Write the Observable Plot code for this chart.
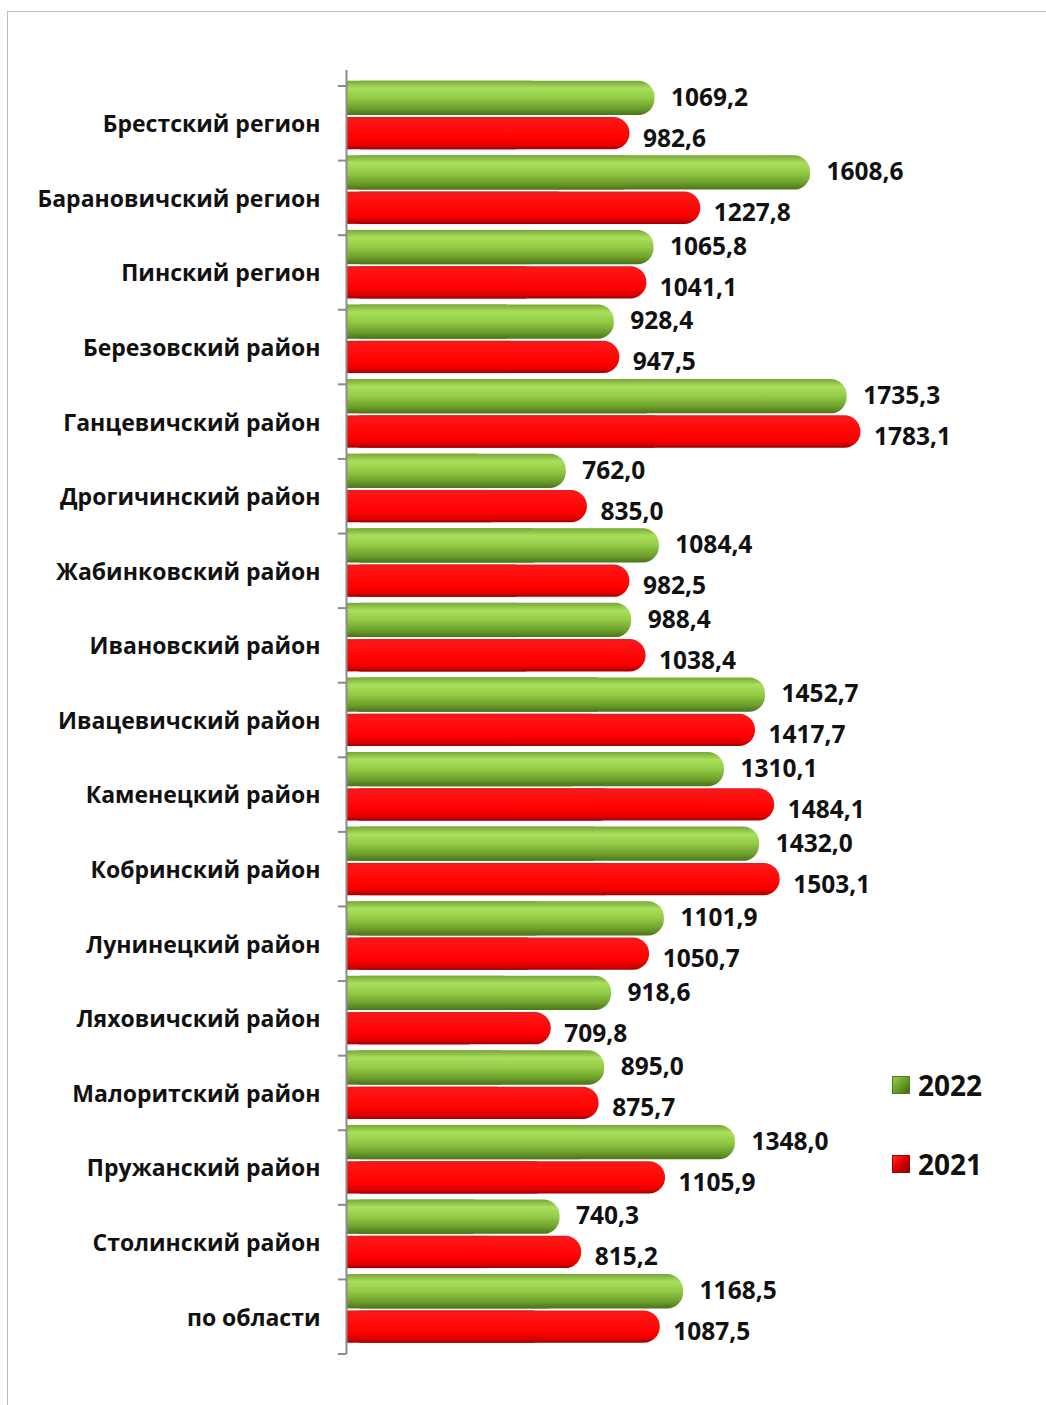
<!DOCTYPE html>
<html>
<head>
<meta charset="utf-8">
<script src="https://cdn.jsdelivr.net/npm/d3@7"></script>
<script src="https://cdn.jsdelivr.net/npm/@observablehq/plot@0.6"></script>
<style>
  html, body { margin: 0; padding: 0; background: #fff; }
  #wrap { position: relative; width: 1046px; height: 1405px; overflow: hidden; }
  #frame { position: absolute; left: 7px; top: 11px; right: -10px; bottom: -10px;
           border-left: 1.5px solid #bdbdbd; border-top: 1.5px solid #bdbdbd; pointer-events: none; }
  #chart { position: absolute; left: 0; top: 0; }
  .leg { position: absolute; font-family: 'Open Sans', sans-serif; font-weight: 700; font-size: 28px;
         color: #111; display: flex; align-items: center; line-height: 1; }
  .sw { width: 18px; height: 18px; margin-right: 8px; box-sizing: border-box; }
</style>
</head>
<body>
<div id="wrap">
  <div id="frame"></div>
  <div id="chart"></div>
</div>
<script>
const categories = [
  "Брестский регион",
  "Барановичский регион",
  "Пинский регион",
  "Березовский район",
  "Ганцевичский район",
  "Дрогичинский район",
  "Жабинковский район",
  "Ивановский район",
  "Ивацевичский район",
  "Каменецкий район",
  "Кобринский район",
  "Лунинецкий район",
  "Ляховичский район",
  "Малоритский район",
  "Пружанский район",
  "Столинский район",
  "по области"
];
const values2022 = [1069.2, 1608.6, 1065.8, 928.4, 1735.3, 762.0, 1084.4, 988.4, 1452.7, 1310.1, 1432.0, 1101.9, 918.6, 895.0, 1348.0, 740.3, 1168.5];
const values2021 = [982.6, 1227.8, 1041.1, 947.5, 1783.1, 835.0, 982.5, 1038.4, 1417.7, 1484.1, 1503.1, 1050.7, 709.8, 875.7, 1105.9, 815.2, 1087.5];
const seriesNames = ["2022", "2021"];

const d22 = categories.map((c, i) => ({cat: c, v: values2022[i]}));
const d21 = categories.map((c, i) => ({cat: c, v: values2021[i]}));
const fmt = v => d3.format(".1f")(v).replace(".", ",");

const W = 1046, H = 1405;
const font = "'Open Sans', sans-serif";

const defsMark = () => {
  const g = document.createElementNS("http://www.w3.org/2000/svg", "defs");
  g.innerHTML = `
    <linearGradient id="gGreen" x1="0" y1="0" x2="0" y2="1">
      <stop offset="0" stop-color="#78a636"/>
      <stop offset="0.22" stop-color="#a9df5c"/>
      <stop offset="0.5" stop-color="#93cb45"/>
      <stop offset="0.8" stop-color="#6e9f2c"/>
      <stop offset="1" stop-color="#4a7319"/>
    </linearGradient>
    <linearGradient id="gRed" x1="0" y1="0" x2="0" y2="1">
      <stop offset="0" stop-color="#e81c1c"/>
      <stop offset="0.15" stop-color="#ff1414"/>
      <stop offset="0.7" stop-color="#ff0000"/>
      <stop offset="0.9" stop-color="#d80000"/>
      <stop offset="1" stop-color="#9c0000"/>
    </linearGradient>
    <filter id="sh" x="-5%" y="-30%" width="110%" height="180%">
      <feDropShadow dx="0" dy="3" stdDeviation="2" flood-color="#000" flood-opacity="0.16"/>
    </filter>`;
  return g;
};

// band = gap-aligned group slot (80 .. 1348), axis line 70 .. 1354
const BW = (1348 - 80) / categories.length;
const gTop = 0.7, gBot = 39.6, rTop = 37, rBot = 5.3;
const tickOff = 6, tickW = 2;
const axisColor = "#8c8c8c";

const chart = Plot.plot({
  width: W,
  height: H,
  marginLeft: 346,
  marginRight: 123,
  marginTop: 70,
  marginBottom: 51,
  style: {fontFamily: font, background: "transparent", overflow: "visible"},
  x: {domain: [0, 2000], axis: null},
  y: {domain: categories, type: "band", round: false, paddingInner: 0, paddingOuter: 0, insetTop: 10, insetBottom: 6, axis: null},
  marks: [
    defsMark,
    // green bars (2022): square left part + rounded full bar
    Plot.barX(d22, {x1: 0, x2: d => d.v * 0.6, y: "cat", fill: "url(#gGreen)", insetTop: gTop, insetBottom: gBot}),
    Plot.barX(d22, {x1: 0, x2: "v", y: "cat", fill: "url(#gGreen)", insetTop: gTop, insetBottom: gBot, rx: 16, ariaLabel: "rbar"}),
    // red bars (2021)
    Plot.barX(d21, {x1: 0, x2: d => d.v * 0.6, y: "cat", fill: "url(#gRed)", insetTop: rTop, insetBottom: rBot}),
    Plot.barX(d21, {x1: 0, x2: "v", y: "cat", fill: "url(#gRed)", insetTop: rTop, insetBottom: rBot, rx: 16, ariaLabel: "rbar"}),
    // axis line
    Plot.ruleX([0], {stroke: axisColor, strokeWidth: 2}),
    // tick marks at group boundaries (thin bars left of the axis)
    Plot.barX(categories, {x1: -28, x2: 0, y: d => d, fill: axisColor,
      insetTop: tickOff - tickW / 2, insetBottom: BW - tickOff - tickW / 2}),
    Plot.barX([categories[categories.length - 1]], {x1: -28, x2: 0, y: d => d, fill: axisColor,
      insetTop: BW + tickOff - tickW / 2, insetBottom: -(tickOff + tickW / 2)}),
    // category labels
    Plot.text(categories, {y: d => d, frameAnchor: "left", dx: -26, dy: 7, textAnchor: "end", text: d => d,
      fontSize: 23, fontWeight: "bold", fill: "#111"}),
    // value labels
    Plot.text(d22, {x: "v", y: "cat", text: d => fmt(d.v), dx: 16, dy: -20, textAnchor: "start",
      fontSize: 24.5, fontWeight: "bold", fill: "#111"}),
    Plot.text(d21, {x: "v", y: "cat", text: d => fmt(d.v), dx: 13, dy: 21, textAnchor: "start",
      fontSize: 24.5, fontWeight: "bold", fill: "#111"})
  ]
});

d3.select(chart).selectAll("g[aria-label='rbar']").attr("filter", "url(#sh)");
document.getElementById("chart").appendChild(chart);

// legend
const legendItems = [
  {name: seriesNames[0], top: 1071, bg: "linear-gradient(135deg,#8fcf45 0%,#6da52c 45%,#3f6a15 100%)", bd: "#4d7a1c"},
  {name: seriesNames[1], top: 1150, bg: "linear-gradient(135deg,#ff3030 0%,#e00000 45%,#8a0000 100%)", bd: "#a00000"}
];
const wrap = document.getElementById("wrap");
legendItems.forEach(it => {
  const div = document.createElement("div");
  div.className = "leg";
  div.style.left = "892px";
  div.style.top = it.top + "px";
  const sw = document.createElement("div");
  sw.className = "sw";
  sw.style.background = it.bg;
  sw.style.border = "1px solid " + it.bd;
  const t = document.createElement("span");
  t.textContent = it.name;
  div.appendChild(sw);
  div.appendChild(t);
  wrap.appendChild(div);
});
</script>
</body>
</html>
